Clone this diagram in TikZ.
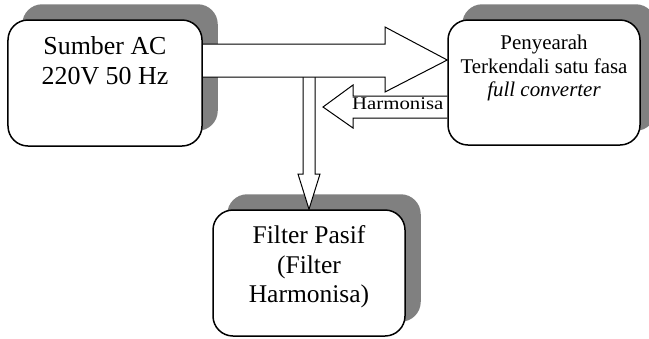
\documentclass[tikz,border=0pt]{standalone}
\usepackage{fontspec}
\setmainfont{Liberation Serif}
\usepackage{graphicx}
\usetikzlibrary{calc}
\pgfdeclarelayer{background}
\pgfdeclarelayer{arrowlayer}
\pgfsetlayers{background,arrowlayer,main}
\definecolor{shadowgray}{HTML}{808080}
\begin{document}
\begin{tikzpicture}[x=1bp,y=-1bp,
  box/.style={draw=black, line width=1.5bp, rounded corners=20bp, fill=white, inner sep=0pt},
  shadow/.style={fill=shadowgray, rounded corners=20bp},
  blockarrow/.style={draw=black, line width=1bp, fill=white, line join=miter},
  boxtext/.style={align=center, anchor=north, inner sep=0pt},
]
\useasboundingbox (0,0) rectangle (649,338);

% boxes
\node[box, minimum width=194bp, minimum height=126bp] (src) at (105,83) {};
\node[box, minimum width=192bp, minimum height=125bp] (pconv) at (544,82.5) {};
\node[box, minimum width=192bp, minimum height=126bp] (fil) at (309,273) {};

% texts
\node[boxtext, font=\fontsize{26}{30}\selectfont] (srctxt) at ($(src.north)+(0,17)$) {Sumber AC\\220V 50 Hz};
\node[boxtext, font=\fontsize{21}{23.5}\selectfont] (pconvtxt) at ($(pconv.north)+(0,15.7)$) {Penyearah\\Terkendali satu fasa\\\textit{full converter}};
\node[boxtext, font=\fontsize{25.6}{29.5}\selectfont] (filtxt) at ($(fil.north)+(0,16.5)$) {Filter Pasif\\(Filter\\Harmonisa)};

% shadows
\begin{pgfonlayer}{background}
\fill[shadow] ($(src.south west)+(15,-16)$) rectangle ($(src.north east)+(15,-15)$);
\fill[shadow] ($(pconv.south west)+(15,-15)$) rectangle ($(pconv.north east)+(15,-15)$);
\fill[shadow] ($(fil.south west)+(15,-15)$) rectangle ($(fil.north east)+(15,-15)$);
\end{pgfonlayer}

% block arrows
\begin{pgfonlayer}{arrowlayer}
\draw[blockarrow] (303,77) -- (303,174) -- (298,174) -- (fil.north) -- (320,174) -- (315,174) -- (315,77);
\draw[blockarrow] (src.east |- 0,44) -- (385,44) -- (385,27) -- (pconv.west |- 0,60) -- (385,92) -- (385,77) -- (src.east |- 0,77);
\draw[blockarrow] (pconv.west |- 0,96) -- (353,96) -- (353,85) -- (323,107) -- (353,128) -- (353,118) -- (pconv.west |- 0,118);
\end{pgfonlayer}

% label
\node[fill=white, inner sep=0pt, anchor=base west, font=\fontsize{18}{20}\selectfont] (harm) at (352,109) {\scalebox{1.16}[1]{Harmonisa}};
\end{tikzpicture}
\end{document}
